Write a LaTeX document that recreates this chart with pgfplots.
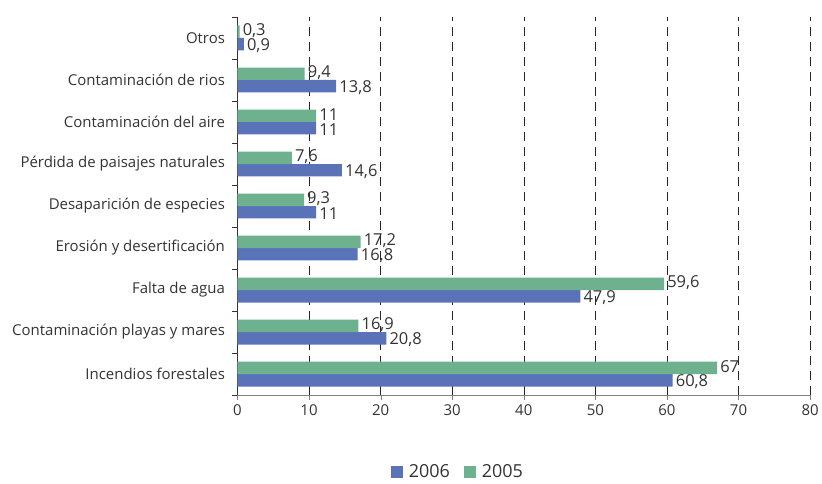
\documentclass[border=0pt]{standalone}
\usepackage{pgfplots}
\pgfplotsset{compat=1.18}
\usepackage{fontspec}
\setmainfont{Open Sans}
\definecolor{b06}{HTML}{5A72B8}
\definecolor{g05}{HTML}{6DB18F}
\definecolor{txt}{HTML}{333333}
\begin{document}
\begin{tikzpicture}
\begin{axis}[
    scale only axis,
    width=574pt, height=379pt,
    xbar, bar width=12.5pt,
    xmin=0, xmax=80, ymin=-0.5, ymax=8.5,
    axis x line*=bottom, axis y line*=left,
    x axis line style={-, draw=gray, line width=1pt},
    y axis line style={-, draw=black!80},
    xtick={0,10,...,80},
    ytick={0,...,8},
    yticklabels={Incendios forestales, Contaminación playas y mares, Falta de agua,
      Erosión y desertificación, Desaparición de especies, Pérdida de paisajes naturales,
      Contaminación del aire, Contaminación de rios, Otros},
    minor ytick={-0.5,0.5,...,8.5},
    major y tick style={draw=none},
    minor y tick style={draw=black!80},
    tick align=outside,
    major tick length=5pt, minor tick length=5pt,
    xmajorgrids, grid style={dashed, black!85, dash pattern=on 9pt off 6pt},
    tick label style={font=\fontsize{15}{18}\selectfont, text=txt},
    /pgf/number format/assume math mode=true,
    yticklabel style={xshift=-4pt},
    xticklabel style={yshift=-1pt},
    point meta=x,
    nodes near coords={\pgfmathprintnumber[use comma]{\pgfplotspointmeta}},
    nodes near coords style={font=\fontsize{16.5}{18}\selectfont, text=txt, inner sep=1pt, xshift=2pt},
    legend columns=2,
    legend style={draw=none, at={(0.385,-0.203)}, anchor=center,
      font=\fontsize{18}{20}\selectfont, text=txt,
      /tikz/every odd column/.append style={column sep=4pt},
      /tikz/every even column/.append style={column sep=12pt}},
    legend image code/.code={\fill[#1] (0pt,-6pt) rectangle (12pt,6pt);},
]
\addplot[fill=b06, draw=none, bar shift=-6.25pt,
    nodes near coords style={yshift=-1pt}] coordinates {
    (60.8,0) (20.8,1) (47.9,2) (16.8,3) (11,4) (14.6,5) (11,6) (13.8,7) (0.9,8)
};
\addplot[fill=g05, draw=none, bar shift=6.25pt,
    nodes near coords style={yshift=1pt}] coordinates {
    (67,0) (16.9,1) (59.6,2) (17.2,3) (9.3,4) (7.6,5) (11,6) (9.4,7) (0.3,8)
};
\legend{2006, 2005}
\end{axis}
\path[use as bounding box] ([xshift=-238pt,yshift=-82pt]current axis.south west)
    rectangle ([xshift=10pt,yshift=17pt]current axis.north east);
\end{tikzpicture}
\end{document}
